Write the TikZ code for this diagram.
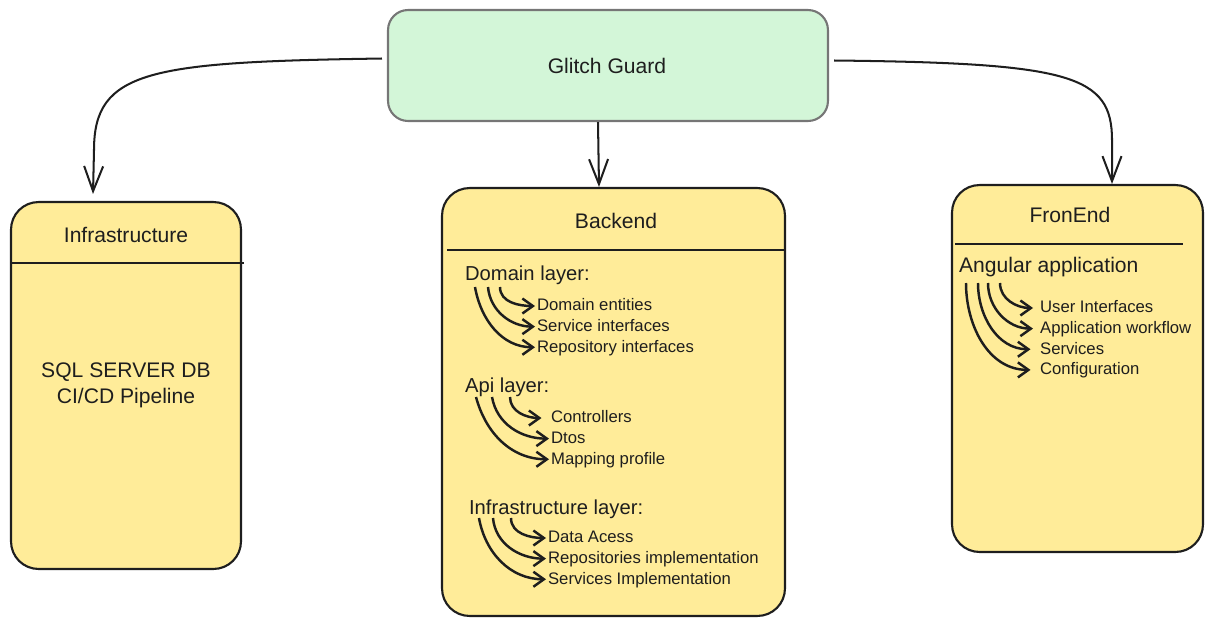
\documentclass[tikz,border=0pt]{standalone}
\usepackage{fontspec}
\setmainfont{Liberation Sans}
\usepackage{tikz}
\usetikzlibrary{shapes,arrows,arrows.meta,positioning,calc}

\definecolor{ink}{HTML}{1E1E1E}
\definecolor{note}{HTML}{FFEC99}
\definecolor{mint}{HTML}{D3F6D8}
\definecolor{edge}{HTML}{767676}

\begin{document}
\begin{tikzpicture}[x=0.02cm, y=-0.02cm, ink,
    box/.style={rectangle, draw=ink, fill=note, line width=1.2pt, rounded corners=0.55cm},
    title/.style={font=\fontsize{12}{14}\selectfont},
    layer/.style={anchor=west, inner sep=1pt, font=\fontsize{11.5}{13}\selectfont},
    item/.style={inner xsep=1pt, inner ysep=0pt, text height=8.5pt, text depth=2.84pt, font=\fontsize{9.5}{11}\selectfont},
    divider/.style={draw=ink, line width=1.5pt},
    link/.style={draw=ink, line width=1.15pt, -{Straight Barb[length=0.5cm, width=0.38cm]}},
    hook/.style={draw=ink, line width=1.4pt, -{Straight Barb[length=2.1mm, width=3mm]}}]
    \useasboundingbox (0,0) rectangle (1214,626);

    % main boxes
    \node [rectangle, draw=edge, fill=mint, line width=1.2pt, rounded corners=0.4cm,
           minimum width=8.8cm, minimum height=2.22cm] (gg) at (608,65.5) {};
    \node [title] (ggt) at (607,66) {Glitch Guard};
    \node [box, minimum width=4.6cm, minimum height=7.34cm] (infra) at (126,385.5) {};
    \node [box, minimum width=6.86cm, minimum height=8.56cm] (back) at (613.5,402) {};
    \node [box, minimum width=5.02cm, minimum height=7.34cm] (front) at (1077.5,368.5) {};

    % headers
    \node [title] (infrat) at (126,235) {Infrastructure};
    \node [title] (backt) at (616,221) {Backend};
    \node [title] (frontt) at (1070,215) {FronEnd};
    \draw [divider] (11,263) -- (244,263);
    \draw [divider] (447,250) -- (785,250);
    \draw [divider] (955,244) -- (1183,244);

    \node [title, align=center, font=\fontsize{12}{14.7}\selectfont] (sql) at (126,385) {SQL SERVER DB\\CI/CD Pipeline};

    % backend layers
    \node [layer] (dl) at (463,275) {Domain layer:};
    \node [item, anchor=west] (de) at (535,306) {Domain entities};
    \node [item, below=0pt of de.south west, anchor=north west] (si) {Service interfaces};
    \node [item, below=0pt of si.south west, anchor=north west] (ri) {Repository interfaces};

    \node [layer] (al) at (463,387) {Api layer:};
    \node [item, anchor=west] (ct) at (549,418) {Controllers};
    \node [item, below=0pt of ct.south west, anchor=north west] (dt) {Dtos};
    \node [item, below=0pt of dt.south west, anchor=north west] (mp) {Mapping profile};

    \node [layer] (il) at (467,509) {Infrastructure layer:};
    \node [item, anchor=west] (da) at (546,538) {Data Acess};
    \node [item, below=0pt of da.south west, anchor=north west] (rp) {Repositories implementation};
    \node [item, below=0pt of rp.south west, anchor=north west] (sv) {Services Implementation};

    % frontend
    \node [layer, font=\fontsize{12}{14}\selectfont] (ang) at (957,267) {Angular application};
    \node [item, anchor=west] (ui) at (1038,308) {User Interfaces};
    \node [item, below=0pt of ui.south west, anchor=north west] (aw) {Application workflow};
    \node [item, below=0pt of aw.south west, anchor=north west] (fs) {Services};
    \node [item, below=0pt of fs.south west, anchor=north west] (cf) {Configuration};

    % connectors
    \draw [link] ($(gg.west)+(-5,-7)$) .. controls (150,62) and (94,70) .. (94,150) -- ($(infra.north)+(-33,-7)$);
    \draw [link] (gg.south -| 598,0) -- (back.north -| 599,0);
    \draw [link] ($(gg.east)+(5,-5)$) .. controls (1070,63) and (1112,75) .. (1112,140) -- ($(front.north)+(34.5,0)$);

    \draw [hook] ($(dl.west)+(37,12)$) to[out=-90,in=180] (de.west);
    \draw [hook] ($(dl.west)+(25,12)$) to[out=-85,in=180] (si.west);
    \draw [hook] ($(dl.west)+(12,12)$) to[out=-80,in=180] (ri.west);

    \draw [hook] ($(al.west)+(47,10)$) to[out=-90,in=180] ([xshift=-0.15cm]ct.west);
    \draw [hook] ($(al.west)+(29,10)$) to[out=-80,in=180] (dt.west);
    \draw [hook] ($(al.west)+(13,10)$) to[out=-75,in=180] (mp.west);

    \draw [hook] ($(il.west)+(44,9)$) to[out=-90,in=180] (da.west);
    \draw [hook] ($(il.west)+(26,9)$) to[out=-85,in=180] (rp.west);
    \draw [hook] ($(il.west)+(12,9)$) to[out=-80,in=180] (sv.west);

    \draw [hook] ($(ang.west)+(43,16)$) to[out=-90,in=180] ([xshift=-0.1cm]ui.west);
    \draw [hook] ($(ang.west)+(31,16)$) to[out=-90,in=180] ([xshift=-0.1cm]aw.west);
    \draw [hook] ($(ang.west)+(21,16)$) to[out=-90,in=180] ([xshift=-0.15cm]fs.west);
    \draw [hook] ($(ang.west)+(9,16)$) to[out=-90,in=180] ([xshift=-0.15cm]cf.west);
\end{tikzpicture}
\end{document}
